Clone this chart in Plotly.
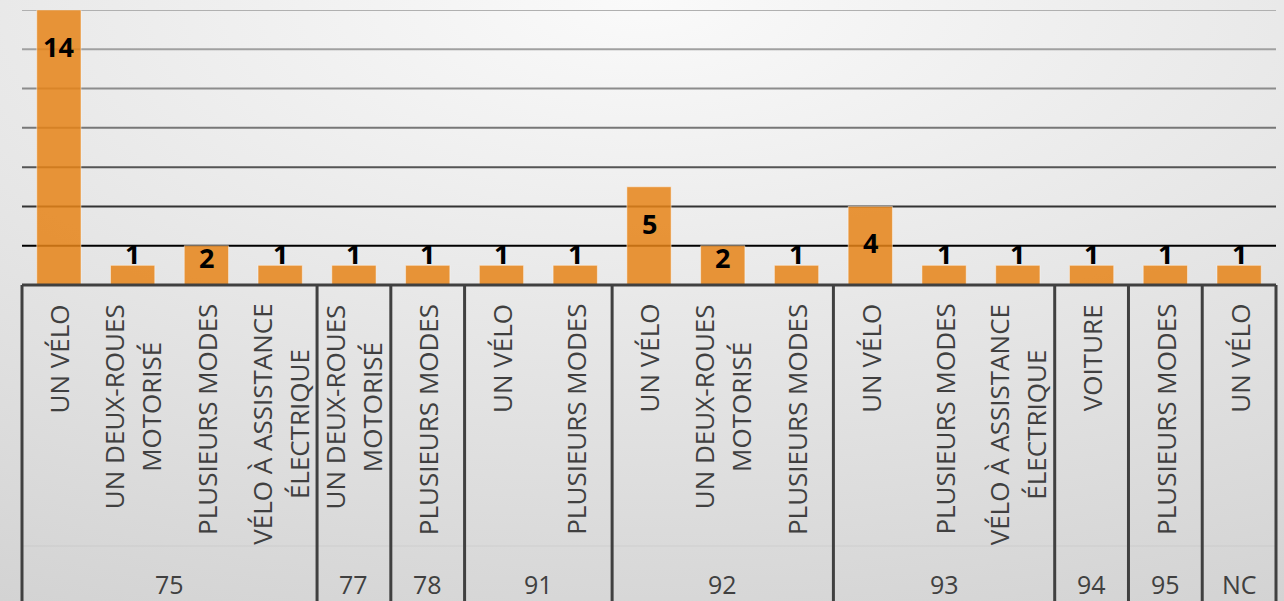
import base64
import plotly.graph_objects as go

# Données
groups = ["75", "75", "75", "75", "77", "78", "91", "91", "92", "92", "92",
          "93", "93", "93", "94", "95", "NC"]
modes = ["UN VÉLO", "UN DEUX-ROUES MOTORISÉ", "PLUSIEURS MODES",
         "VÉLO À ASSISTANCE ÉLECTRIQUE", "UN DEUX-ROUES MOTORISÉ",
         "PLUSIEURS MODES", "UN VÉLO", "PLUSIEURS MODES", "UN VÉLO",
         "UN DEUX-ROUES MOTORISÉ", "PLUSIEURS MODES", "UN VÉLO",
         "PLUSIEURS MODES", "VÉLO À ASSISTANCE ÉLECTRIQUE", "VOITURE",
         "PLUSIEURS MODES", "UN VÉLO"]
values = [14, 1, 2, 1, 1, 1, 1, 1, 5, 2, 1, 4, 1, 1, 1, 1, 1]
grid_values = [2, 4, 6, 8, 10, 12, 14]

# Retours à la ligne comme dans Excel
wrapped = {
    "UN DEUX-ROUES MOTORISÉ": ["UN DEUX-ROUES", "MOTORISÉ"],
    "VÉLO À ASSISTANCE ÉLECTRIQUE": ["VÉLO À ASSISTANCE", "ÉLECTRIQUE"],
}

W, H = 1284, 601
L, R, T, B = 22, 8, 10, 316
pw, ph = W - L - R, H - T - B
n = len(values)

text_col = "#404040"
line_col = "#404040"
font = "Open Sans"

# Fond en dégradé radial (image SVG)
svg = f"""<svg xmlns='http://www.w3.org/2000/svg' width='{W}' height='{H}' viewBox='0 0 {W} {H}' preserveAspectRatio='none'>
<defs><radialGradient id='g' gradientUnits='userSpaceOnUse' cx='642' cy='0' r='685'
gradientTransform='translate(642 0) scale(2.2 1) translate(-642 0)'>
<stop offset='0' stop-color='#fafafa'/><stop offset='1' stop-color='#d2d2d2'/></radialGradient></defs>
<rect width='{W}' height='{H}' fill='url(#g)'/></svg>"""
bg_uri = "data:image/svg+xml;base64," + base64.b64encode(svg.encode()).decode()

fig = go.Figure()
fig.add_trace(
    go.Bar(
        x=list(range(n)),
        y=values,
        width=0.6,
        marker=dict(color="rgba(230,132,23,0.85)",
                    line=dict(color="rgba(255,255,255,0.45)", width=1)),
        hoverinfo="y",
    )
)

shapes = []
# Lignes de grille (plus foncées vers le bas)
grid_colors = ["#000000", "#333333", "#555555", "#777777", "#8c8c8c", "#a0a0a0", "#b0b0b0"]
for gv, gc in zip(grid_values, grid_colors):
    shapes.append(dict(type="line", xref="paper", yref="y", x0=0, x1=1, y0=gv, y1=gv,
                       line=dict(color=gc, width=2), layer="below"))


def to_paper(pos):
    return (pos + 0.5) / n


# Boîte de l'axe des catégories
y_bottom = -(B + 5) / ph
shapes.append(dict(type="line", xref="paper", yref="paper", x0=0, x1=1, y0=0, y1=0,
                   line=dict(color=line_col, width=3)))
shapes.append(dict(type="line", xref="paper", yref="paper", x0=0, x1=1,
                   y0=-(546 - 285) / ph, y1=-(546 - 285) / ph,
                   line=dict(color="rgba(0,0,0,0.06)", width=1)))

# séparateurs de groupes
bounds = [-0.5]
for i in range(1, n):
    if groups[i] != groups[i - 1]:
        bounds.append(i - 0.5)
bounds.append(n - 0.5)
for b in bounds:
    shapes.append(dict(type="line", xref="paper", yref="paper",
                       x0=to_paper(b), x1=to_paper(b), y0=0, y1=y_bottom,
                       line=dict(color=line_col, width=3)))

annotations = []
# Étiquettes des modes (verticales)
for i, m in enumerate(modes):
    lines = wrapped.get(m, [m])
    txt = "<br>".join(f"<span style='font-size:26px'>{s}</span>" for s in lines)
    annotations.append(dict(x=i, xref="x", y=-0.062, yref="paper", text=txt,
                            textangle=-90, showarrow=False, xanchor="center",
                            yanchor="top", align="center",
                            font=dict(family=font, size=28.5, color=text_col)))

# Étiquettes des groupes
for k in range(len(bounds) - 1):
    center = (bounds[k] + bounds[k + 1]) / 2
    annotations.append(dict(x=center, xref="x", y=-(584 - 285) / ph, yref="paper",
                            text=groups[int(bounds[k] + 0.5)], showarrow=False,
                            xanchor="center", yanchor="middle",
                            font=dict(family=font, size=25, color=text_col)))

# Étiquettes de données
for i, v in enumerate(values):
    if v == 1:
        anchor, shift = "bottom", -9
    elif v == 2:
        anchor, shift = "top", 9
    else:
        anchor, shift = "top", -16
    annotations.append(dict(x=i, xref="x", y=v, yref="y", text=f"<b>{v}</b>",
                            showarrow=False, xanchor="center", yanchor=anchor,
                            yshift=shift,
                            font=dict(family=font, size=27, color="#000000")))

fig.update_layout(
    width=W,
    height=H,
    margin=dict(l=L, r=R, t=T, b=B),
    paper_bgcolor="#e4e4e4",
    plot_bgcolor="rgba(0,0,0,0)",
    showlegend=False,
    bargap=0.4,
    shapes=shapes,
    annotations=annotations,
    images=[dict(source=bg_uri, xref="paper", yref="paper",
                 x=-L / pw, y=1 + T / ph, sizex=W / pw, sizey=H / ph,
                 sizing="stretch", layer="below", xanchor="left", yanchor="top")],
)
fig.update_xaxes(range=[-0.5, n - 0.5], showgrid=False, zeroline=False,
                 showticklabels=False, ticks="", fixedrange=True)
fig.update_yaxes(range=[0, 14], showgrid=False, zeroline=False,
                 showticklabels=False, ticks="", fixedrange=True)

# pas de marge autour de la page
fig.write_html("out.html", config={"displayModeBar": False},
               post_script="document.body.style.margin='0';document.body.style.overflow='hidden';")
